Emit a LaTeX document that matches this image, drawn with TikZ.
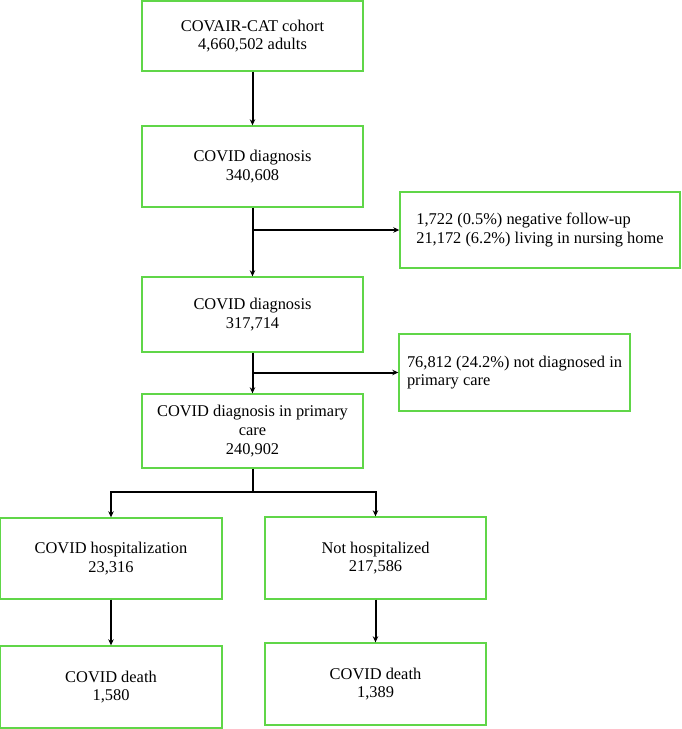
\documentclass[tikz,border=0pt]{standalone}
\usepackage{fontspec}
\setmainfont{Liberation Serif}
\usetikzlibrary{arrows.meta}
\definecolor{boxgreen}{RGB}{96,214,72}
\tikzset{
  box/.style={draw=boxgreen, line width=1.4pt, fill=white, align=center,
    font=\fontsize{16.4}{18.8}\selectfont, inner sep=0pt},
  sidebox/.style={box, align=left},
  arr/.style={draw=black, line width=2pt, -{Stealth[length=6pt,width=5.5pt]}},
  ln/.style={draw=black, line width=2pt}
}
\begin{document}
\begin{tikzpicture}[x=1pt,y=-1pt]
\useasboundingbox (0,0) rectangle (681,729);
\node[box, minimum width=221pt, minimum height=70pt] (b1) at (252.5,36) {COVAIR-CAT cohort\\4,660,502 adults};
\node[box, minimum width=221pt, minimum height=81pt] (b2) at (252.5,166.5) {COVID diagnosis\\340,608};
\node[sidebox, minimum width=280pt, minimum height=76pt] (s1) at (540,230) {1,722 (0.5\%) negative follow-up\\21,172 (6.2\%) living in nursing home};
\node[box, minimum width=221pt, minimum height=75pt] (b3) at (252.5,314.5) {COVID diagnosis\\317,714};
\node[sidebox, minimum width=231pt, minimum height=77pt] (s2) at (514.5,372.5) {76,812 (24.2\%) not diagnosed in\\primary care};
\node[box, minimum width=221pt, minimum height=74pt] (b4) at (252.5,431) {COVID diagnosis in primary\\care\\240,902};
\node[box, minimum width=222pt, minimum height=81pt] (b5) at (111,558.5) {COVID hospitalization\\23,316};
\node[box, minimum width=221pt, minimum height=82pt] (b6) at (375.5,558) {Not hospitalized\\217,586};
\node[box, minimum width=222pt, minimum height=82pt] (b7) at (111,687) {COVID death\\1,580};
\node[box, minimum width=221pt, minimum height=82pt] (b8) at (375.5,684) {COVID death\\1,389};

\draw[arr] (b1.south) -- (b2.north);
\draw[arr] (b2.south) -- (b3.north);
\draw[arr] (b2.south |- s1.west) -- (s1.west);
\draw[arr] (b3.south) -- (b4.north);
\draw[arr] (b3.south |- s2.west) -- (s2.west);
\coordinate (split) at (252.5,492);
\draw[ln] (b4.south) -- (split);
\draw[arr] (split) -| (b5.north);
\draw[arr] (split) -| (b6.north);
\draw[arr] (b5.south) -- (b7.north);
\draw[arr] (b6.south) -- (b8.north);
\end{tikzpicture}
\end{document}
